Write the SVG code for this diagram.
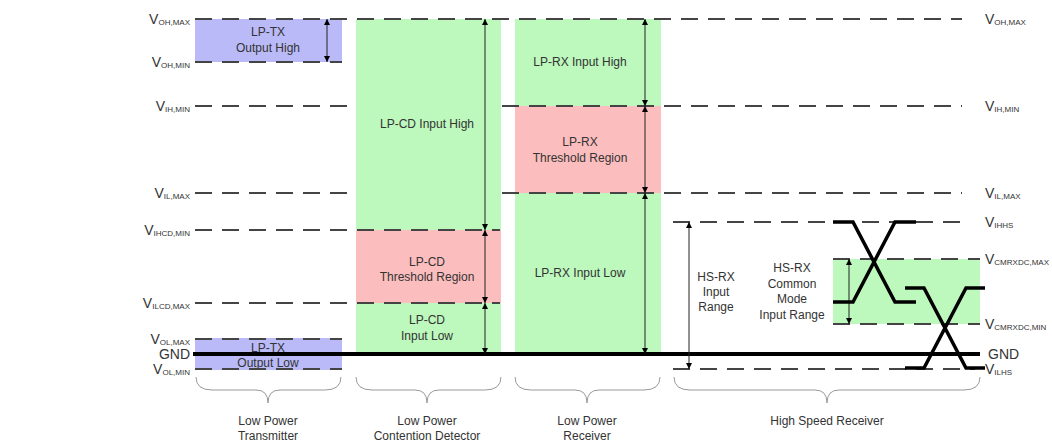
<svg xmlns="http://www.w3.org/2000/svg" width="1052" height="443" viewBox="0 0 1052 443">
<style>
.dash{stroke:#444;stroke-width:2;stroke-dasharray:17 10;fill:none}
.arr{stroke:#222;stroke-width:1;fill:none;marker-start:url(#ah);marker-end:url(#ah)}
.t{font-family:"Liberation Sans",Arial,sans-serif;font-size:12px;fill:#333;text-anchor:middle}
.vl{font-family:"Liberation Sans",Arial,sans-serif;font-size:14px;fill:#333;text-anchor:end}
.vr{font-family:"Liberation Sans",Arial,sans-serif;font-size:14px;fill:#333;text-anchor:start}
.sub{font-size:8px}
.blue{fill:#babaf8}
.green{fill:#bdf8bd}
.red{fill:#fbbdbd}
.brace{stroke:#999;stroke-width:1;fill:none}
.wave{stroke:#000;stroke-width:3.5;fill:none;stroke-linejoin:miter}
</style>
<defs>
<marker id="ah" viewBox="0 0 8 8" refX="8" refY="4" markerWidth="7" markerHeight="6" orient="auto-start-reverse" markerUnits="userSpaceOnUse"><path d="M0,0 L8,4 L0,8 z" fill="#000"/></marker>
</defs>

<g id="lp-tx">
<rect class="blue" x="195" y="19" width="147" height="43"/>
<rect class="blue" x="195" y="338" width="147" height="32"/>
<text class="t" x="268" y="36">LP-TX</text>
<text class="t" x="268" y="52">Output High</text>
<text class="t" x="268" y="352">LP-TX</text>
<text class="t" x="268" y="367">Output Low</text>
</g>

<g id="lp-cd">
<rect class="green" x="356" y="19" width="145" height="211"/>
<rect class="red" x="356" y="230" width="145" height="73"/>
<rect class="green" x="356" y="303" width="145" height="51"/>
<text class="t" x="427" y="128">LP-CD Input High</text>
<text class="t" x="427" y="266">LP-CD</text>
<text class="t" x="427" y="281">Threshold Region</text>
<text class="t" x="427" y="324">LP-CD</text>
<text class="t" x="427" y="340">Input Low</text>
</g>

<g id="lp-rx">
<rect class="green" x="515" y="19" width="146" height="87"/>
<rect class="red" x="515" y="106" width="146" height="87"/>
<rect class="green" x="515" y="193" width="146" height="161"/>
<text class="t" x="580" y="66">LP-RX Input High</text>
<text class="t" x="580" y="146">LP-RX</text>
<text class="t" x="580" y="162">Threshold Region</text>
<text class="t" x="580" y="277">LP-RX Input Low</text>
</g>

<g id="hs-rx">
<rect class="green" x="833" y="259" width="147" height="65"/>
<text class="t" x="716" y="281">HS-RX</text>
<text class="t" x="716" y="296">Input</text>
<text class="t" x="716" y="311">Range</text>
<text class="t" x="792" y="272">HS-RX</text>
<text class="t" x="792" y="288">Common</text>
<text class="t" x="792" y="303">Mode</text>
<text class="t" x="792" y="319">Input Range</text>
</g>

<g id="levels">
<line class="dash" x1="195" y1="19" x2="962" y2="19"/>
<line class="dash" x1="195" y1="62" x2="342" y2="62"/>
<line class="dash" x1="195" y1="106" x2="356" y2="106"/>
<line class="dash" x1="502" y1="106" x2="962" y2="106"/>
<line class="dash" x1="195" y1="193" x2="356" y2="193"/>
<line class="dash" x1="502" y1="193" x2="962" y2="193"/>
<line class="dash" x1="195" y1="230" x2="500" y2="230"/>
<line class="dash" x1="673" y1="222" x2="962" y2="222"/>
<line class="dash" x1="833" y1="259" x2="980" y2="259"/>
<line class="dash" x1="195" y1="303" x2="500" y2="303"/>
<line class="dash" x1="833" y1="324" x2="980" y2="324"/>
<line class="dash" x1="195" y1="339" x2="342" y2="339"/>
<line class="dash" x1="195" y1="369" x2="342" y2="369"/>
<line class="dash" x1="673" y1="369" x2="975" y2="369"/>
<line x1="193" y1="354" x2="980" y2="354" stroke="#000" stroke-width="4"/>
</g>

<g id="connectors">
<line class="arr" x1="327" y1="19" x2="327" y2="62"/>
<line class="arr" x1="485" y1="19" x2="485" y2="230"/>
<line class="arr" x1="485" y1="230" x2="485" y2="303"/>
<line class="arr" x1="485" y1="303" x2="485" y2="354"/>
<line class="arr" x1="645" y1="19" x2="645" y2="106"/>
<line class="arr" x1="645" y1="106" x2="645" y2="193"/>
<line class="arr" x1="645" y1="193" x2="645" y2="354"/>
<line class="arr" x1="689" y1="222" x2="689" y2="369"/>
<line class="arr" x1="849" y1="259" x2="849" y2="324"/>
</g>

<g id="waves">
<path class="wave" d="M833,222 H853 L895,302 H916"/>
<path class="wave" d="M833,302 H853 L895,222 H916"/>
<path class="wave" d="M905,288 H924 L966,368 H985"/>
<path class="wave" d="M905,368 H924 L966,288 H985"/>
</g>

<g id="labels-left">
<text class="vl" x="190" y="24">V<tspan class="sub" dy="1">OH,MAX</tspan></text>
<text class="vl" x="190" y="67">V<tspan class="sub" dy="1">OH,MIN</tspan></text>
<text class="vl" x="190" y="111">V<tspan class="sub" dy="1">IH,MIN</tspan></text>
<text class="vl" x="190" y="198">V<tspan class="sub" dy="1">IL,MAX</tspan></text>
<text class="vl" x="190" y="235">V<tspan class="sub" dy="1">IHCD,MIN</tspan></text>
<text class="vl" x="190" y="308">V<tspan class="sub" dy="1">ILCD,MAX</tspan></text>
<text class="vl" x="190" y="344">V<tspan class="sub" dy="1">OL,MAX</tspan></text>
<text class="vl" x="190" y="359">GND</text>
<text class="vl" x="190" y="374">V<tspan class="sub" dy="1">OL,MIN</tspan></text>
</g>

<g id="labels-right">
<text class="vr" x="985" y="24">V<tspan class="sub" dy="1">OH,MAX</tspan></text>
<text class="vr" x="985" y="111">V<tspan class="sub" dy="1">IH,MIN</tspan></text>
<text class="vr" x="985" y="198">V<tspan class="sub" dy="1">IL,MAX</tspan></text>
<text class="vr" x="985" y="227">V<tspan class="sub" dy="1">IHHS</tspan></text>
<text class="vr" x="985" y="264">V<tspan class="sub" dy="1">CMRXDC,MAX</tspan></text>
<text class="vr" x="985" y="329">V<tspan class="sub" dy="1">CMRXDC,MIN</tspan></text>
<text class="vr" x="988" y="359">GND</text>
<text class="vr" x="985" y="374">V<tspan class="sub" dy="1">ILHS</tspan></text>
</g>

<g id="braces">
<path class="brace" d="M196,377 Q196,390 212,390 H256 Q268,390 268,403 Q268,390 280,390 H325 Q341,390 341,377"/>
<path class="brace" d="M356,377 Q356,390 372,390 H415 Q427,390 427,403 Q427,390 439,390 H485 Q501,390 501,377"/>
<path class="brace" d="M515,377 Q515,390 531,390 H575 Q587,390 587,403 Q587,390 599,390 H644 Q660,390 660,377"/>
<path class="brace" d="M674,377 Q674,390 690,390 H815 Q827,390 827,403 Q827,390 839,390 H964 Q980,390 980,377"/>
</g>

<g id="section-labels">
<text class="t" x="268" y="425">Low Power</text>
<text class="t" x="268" y="440">Transmitter</text>
<text class="t" x="427" y="425">Low Power</text>
<text class="t" x="427" y="440">Contention Detector</text>
<text class="t" x="587" y="425">Low Power</text>
<text class="t" x="587" y="440">Receiver</text>
<text class="t" x="827" y="425">High Speed Receiver</text>
</g>
</svg>
